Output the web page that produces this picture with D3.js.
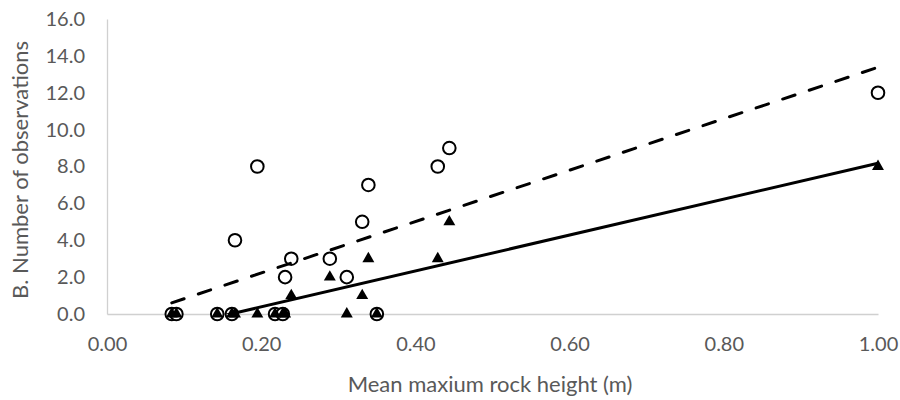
<!DOCTYPE html>
<html><head><meta charset="utf-8">
<script src="https://cdn.jsdelivr.net/npm/d3@7"></script>
<style>body{margin:0;background:#fff}svg{display:block}</style>
</head><body>
<svg id="c" width="900" height="400"></svg>
<script>
// Data
const rockHeight = [0.084,0.090,0.143,0.162,0.166,0.195,0.218,0.228,0.231,0.239,0.289,0.311,0.331,0.339,0.350,0.429,0.444,1.000];
const seriesCircle = [0,0,0,0,4,8,0,0,2,3,3,2,5,7,0,8,9,12];
const seriesTriangle = [0,0,0,0,0,0,0,0,0,1,2,0,1,3,0,3,5,8];
const xTicks = [0,0.2,0.4,0.6,0.8,1.0];
const yTicks = [0,2,4,6,8,10,12,14,16];
const xTitle = "Mean maxium rock height (m)";
const yTitle = "B. Number of observations";

const svg = d3.select("#c");
const x = d3.scaleLinear().domain([0,1]).range([107,878]);
const y = d3.scaleLinear().domain([0,16]).range([314,19]);
const textCol = "#595959", axisCol = "#d0d0d0";
const font = "Lato, 'Open Sans', sans-serif";

svg.append("defs").append("clipPath").attr("id","pa")
  .append("rect").attr("x",x(0)).attr("y",y(16)-5).attr("width",x(1)-x(0)+10).attr("height",y(0)-y(16)+5);

// axes
const xa = svg.append("g").attr("transform",`translate(0,${y(0)})`)
  .call(d3.axisBottom(x).tickValues(xTicks).tickFormat(d3.format(".2f")).tickSize(0).tickPadding(23));
const ya = svg.append("g").attr("transform",`translate(${x(0)},0)`)
  .call(d3.axisLeft(y).tickValues(yTicks).tickFormat(d3.format(".1f")).tickSize(0).tickPadding(22));
[xa,ya].forEach(a=>{
  a.select(".domain").attr("stroke",axisCol).attr("stroke-width",1.3);
  a.selectAll("text").attr("fill",textCol).style("font-family",font).style("font-size","20px");
});

const pts = rockHeight.map((v,i)=>({x:v,c:seriesCircle[i],t:seriesTriangle[i]}));

// markers
svg.append("g").selectAll("circle").data(pts).join("circle")
  .attr("cx",d=>x(d.x)).attr("cy",d=>y(d.c)).attr("r",6.3)
  .attr("fill","#fff").attr("stroke","#000").attr("stroke-width",2);
const tri = d3.symbol().type(d3.symbolTriangle).size(62);
svg.append("g").selectAll("path").data(pts).join("path")
  .attr("d",tri).attr("transform",d=>`translate(${x(d.x)},${y(d.t)})`).attr("fill","#000");

// linear trendlines (least squares)
function fit(xs,ys){
  const mx=d3.mean(xs), my=d3.mean(ys);
  let sxy=0,sxx=0; xs.forEach((v,i)=>{sxy+=(v-mx)*(ys[i]-my);sxx+=(v-mx)*(v-mx);});
  const b=sxy/sxx; return {b,a:my-b*mx};
}
const [x0,x1]=d3.extent(rockHeight);
const line=d3.line().x(d=>x(d[0])).y(d=>y(d[1]));
const fc=fit(rockHeight,seriesCircle), ft=fit(rockHeight,seriesTriangle);
const lg=svg.append("g").attr("clip-path","url(#pa)");
lg.append("path").attr("d",line([[x0,fc.a+fc.b*x0],[x1,fc.a+fc.b*x1]]))
  .attr("stroke","#000").attr("stroke-width",3).attr("fill","none")
  .attr("stroke-dasharray","13,15").attr("stroke-linecap","round");
lg.append("path").attr("d",line([[x0,ft.a+ft.b*x0],[x1,ft.a+ft.b*x1]]))
  .attr("stroke","#000").attr("stroke-width",3).attr("fill","none");

// titles
svg.append("text").attr("x",490).attr("y",392).attr("text-anchor","middle")
  .attr("fill",textCol).style("font-family",font).style("font-size","22px").text(xTitle);
svg.append("text").attr("transform","translate(28,170) rotate(-90)").attr("text-anchor","middle")
  .attr("fill",textCol).style("font-family",font).style("font-size","22px").text(yTitle);
</script>
</body></html>
